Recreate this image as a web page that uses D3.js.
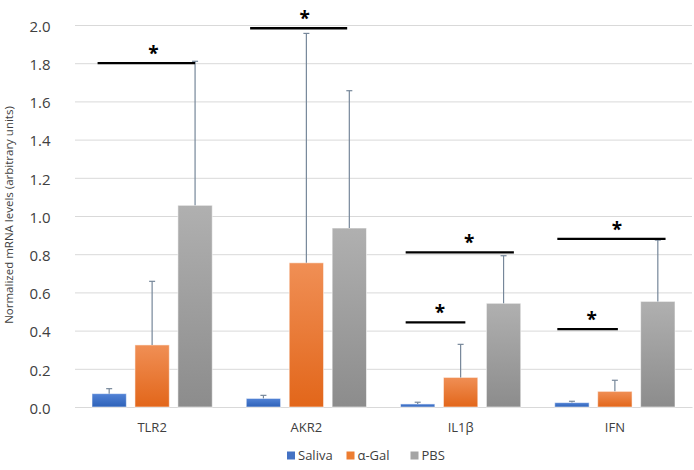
<!DOCTYPE html>
<html><head><meta charset="utf-8">
<script src="https://cdn.jsdelivr.net/npm/d3@7"></script>
<style>
body{margin:0;background:#fff;}
svg{display:block;font-family:"Open Sans",sans-serif;}
</style></head>
<body>
<svg id="chart" width="694" height="470"></svg>
<script>
// ---- data ----
const categories = ["TLR2", "AKR2", "IL1β", "IFN"];
const seriesNames = ["Saliva", "α-Gal", "PBS"];
const saliva      = [0.070, 0.045, 0.016, 0.023];
const salivaErr   = [0.026, 0.016, 0.009, 0.007];
const alphaGal    = [0.325, 0.755, 0.155, 0.082];
const alphaGalErr = [0.333, 1.201, 0.173, 0.058];
const pbs         = [1.056, 0.937, 0.543, 0.553];
const pbsErr      = [0.754, 0.719, 0.249, 0.321];
const yTicks      = [0, 0.2, 0.4, 0.6, 0.8, 1.0, 1.2, 1.4, 1.6, 1.8, 2.0];
// significance brackets: category, level (y value), span in bar-index units, star position
const sigCategory = ["TLR2", "AKR2", "IL1β", "IL1β", "IFN", "IFN"];
const sigLevel    = [1.80, 1.983, 0.81, 0.443, 0.88, 0.408];
const sigFrom     = [-0.27, -0.31, -0.28, -0.28, -0.34, -0.34];
const sigTo       = [2.00, 1.95, 2.24, 1.11, 2.18, 1.07];
const sigStar     = [1.03, 0.96, 1.20, 0.52, 1.05, 0.46];

const seriesValues = [saliva, alphaGal, pbs];
const seriesErrors = [salivaErr, alphaGalErr, pbsErr];

// ---- layout ----
const svg = d3.select("#chart");
const mLeft = 75, mRight = 692, mTop = 25, mBottom = 407;

const x0 = d3.scaleBand().domain(categories).range([mLeft, mRight]).paddingInner(0).paddingOuter(0);
const groupPad = 17;
const x1 = d3.scaleBand().domain(seriesNames)
  .range([groupPad, x0.bandwidth() - groupPad]).paddingInner(0.2).paddingOuter(0);
const y = d3.scaleLinear().domain([0, 2]).range([mBottom, mTop]);

// gradients
const defs = svg.append("defs");
const grads = [
  ["gSaliva", "#5283d6", "#2d61b8"],
  ["gGal", "#f08f55", "#e2661a"],
  ["gPbs", "#b0b0b0", "#8c8c8c"]
];
grads.forEach(([id, c1, c2]) => {
  const g = defs.append("linearGradient").attr("id", id).attr("x1", 0).attr("y1", 0).attr("x2", 0).attr("y2", 1);
  g.append("stop").attr("offset", "0%").attr("stop-color", c1);
  g.append("stop").attr("offset", "100%").attr("stop-color", c2);
});
const legendColors = ["#4472c4", "#ed7d31", "#a5a5a5"];

// gridlines via axis
const yGrid = d3.axisLeft(y).tickValues(yTicks).tickSize(-(mRight - mLeft)).tickFormat("");
svg.append("g").attr("transform", `translate(${mLeft},0)`).call(yGrid)
  .call(g => g.select(".domain").remove())
  .call(g => g.selectAll("line").attr("stroke", "#d9d9d9").attr("stroke-width", 1));

// y tick labels
const yAxis = d3.axisLeft(y).tickValues(yTicks).tickSize(0).tickPadding(0).tickFormat(d3.format(".1f"));
svg.append("g").attr("transform", `translate(50.5,0)`).call(yAxis)
  .call(g => g.select(".domain").remove())
  .call(g => g.selectAll("text").attr("font-family", "'Open Sans',sans-serif")
    .attr("font-size", 15).attr("fill", "#404040").attr("dy", "0.42em"));

// y title
svg.append("text")
  .attr("transform", `translate(13,215) rotate(-90)`)
  .attr("text-anchor", "middle").attr("font-size", 11.5).attr("fill", "#404040")
  .text("Normalized mRNA levels (arbitrary units)");

// x axis
const xAxis = d3.axisBottom(x0).tickSize(0).tickPadding(0);
svg.append("g").attr("transform", `translate(0,${mBottom})`).call(xAxis)
  .call(g => g.select(".domain").attr("stroke", "#d9d9d9"))
  .call(g => g.selectAll("text").attr("font-family", "'Open Sans',sans-serif")
    .attr("font-size", 13).attr("fill", "#404040").attr("y", 24.5).attr("dy", 0));

// bars
const groups = svg.append("g").selectAll("g").data(categories).join("g")
  .attr("transform", d => `translate(${x0(d)},0)`);

seriesNames.forEach((s, si) => {
  groups.append("rect")
    .attr("x", x1(s))
    .attr("width", x1.bandwidth())
    .attr("y", (d, ci) => y(seriesValues[si][ci]))
    .attr("height", (d, ci) => y(0) - y(seriesValues[si][ci]))
    .attr("fill", `url(#${grads[si][0]})`)
    .attr("stroke", "rgba(255,255,255,0.55)").attr("stroke-width", 1);
});

// error bars
const errColor = "#76879a";
seriesNames.forEach((s, si) => {
  const cx = x1(s) + x1.bandwidth() / 2;
  groups.append("line")
    .attr("x1", cx).attr("x2", cx)
    .attr("y1", (d, ci) => y(seriesValues[si][ci]))
    .attr("y2", (d, ci) => y(seriesValues[si][ci] + seriesErrors[si][ci]))
    .attr("stroke", errColor).attr("stroke-width", 1.2);
  groups.append("line")
    .attr("x1", cx - 3).attr("x2", cx + 3)
    .attr("y1", (d, ci) => y(seriesValues[si][ci] + seriesErrors[si][ci]))
    .attr("y2", (d, ci) => y(seriesValues[si][ci] + seriesErrors[si][ci]))
    .attr("stroke", errColor).attr("stroke-width", 1.2);
});

// significance brackets
const step = x1.step();
const barCenter = (cat, idx) => x0(cat) + x1(seriesNames[0]) + x1.bandwidth() / 2 + idx * step;
const sig = svg.append("g");
sigCategory.forEach((cat, i) => {
  sig.append("line")
    .attr("x1", barCenter(cat, sigFrom[i])).attr("x2", barCenter(cat, sigTo[i]))
    .attr("y1", y(sigLevel[i])).attr("y2", y(sigLevel[i]))
    .attr("stroke", "#000").attr("stroke-width", 2.3);
  sig.append("text")
    .attr("x", barCenter(cat, sigStar[i])).attr("y", y(sigLevel[i]) - 3)
    .attr("text-anchor", "middle").attr("font-size", 19).attr("font-weight", "bold")
    .attr("fill", "#000").text("*");
});

// legend
const legendX = [287, 346.5, 410.5];
const legend = svg.append("g");
seriesNames.forEach((s, i) => {
  legend.append("rect").attr("x", legendX[i]).attr("y", 451.5).attr("width", 8).attr("height", 8)
    .attr("fill", legendColors[i]);
  legend.append("text").attr("x", legendX[i] + 11).attr("y", 459.5)
    .attr("font-size", 13).attr("fill", "#404040").text(s);
});
</script>
</body></html>
